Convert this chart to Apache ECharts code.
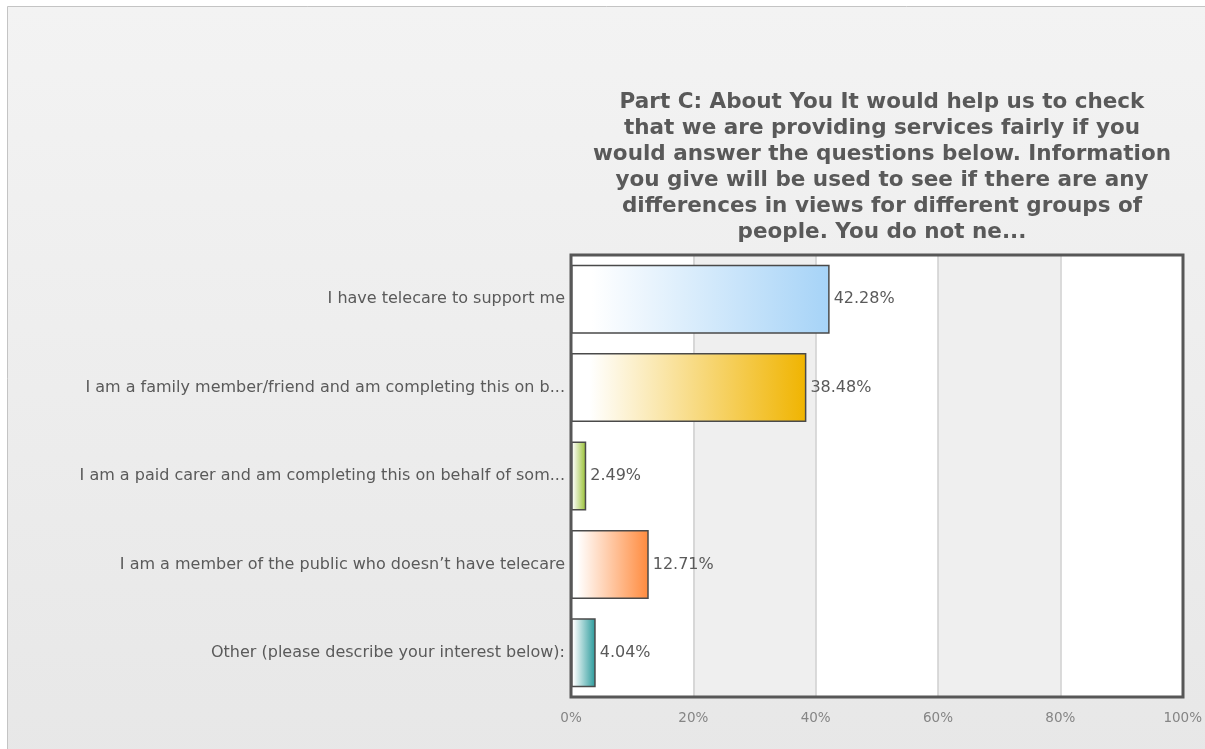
<!DOCTYPE html>
<html>
<head>
<meta charset="utf-8">
<style>
  html, body { margin: 0; padding: 0; background: #ffffff; }
  #chart { width: 1205px; height: 749px; }
</style>
<script src="https://cdn.jsdelivr.net/npm/echarts@6/dist/echarts.min.js"></script>
</head>
<body>
<div id="chart"></div>
<script>
// Survey answers and their share of respondents (%)
const categories = [
  'I have telecare to support me',
  'I am a family member/friend and am completing this on b...',
  'I am a paid carer and am completing this on behalf of som...',
  'I am a member of the public who doesn\u2019t have telecare',
  'Other (please describe your interest below):'
];
const values = [42.28, 38.48, 2.49, 12.71, 4.04];
const barColors = ['#a6d3f7', '#f0b400', '#96bf2e', '#ff8a3d', '#27999a'];
const xTicks = [0, 20, 40, 60, 80, 100];

const titleLines = [
  'Part C: About You It would help us to check',
  'that we are providing services fairly if you',
  'would answer the questions below. Information',
  'you give will be used to see if there are any',
  'differences in views for different groups of',
  'people. You do not ne...'
];

const chart = echarts.init(document.getElementById('chart'), null, { renderer: 'canvas' });

const W = 1205, H = 749;
const gridLeft = 571, gridRight = 22, gridTop = 255, gridBottom = 52;

const option = {
  animation: false,
  backgroundColor: '#ffffff',
  graphic: [
    {
      // outer panel with soft vertical gradient
      type: 'rect', silent: true, z: -10,
      shape: { x: 7.5, y: 6.5, width: W, height: H + 20 },
      style: {
        fill: {
          type: 'linear', x: 0, y: 0, x2: 0, y2: 1,
          colorStops: [{ offset: 0, color: '#f3f3f3' }, { offset: 1, color: '#e7e7e7' }]
        },
        stroke: '#c4c4c4', lineWidth: 1
      }
    },
    {
      // dark frame around the plot area
      type: 'rect', silent: true, z: 100,
      shape: { x: gridLeft, y: gridTop, width: W - gridLeft - gridRight, height: H - gridTop - gridBottom },
      style: { fill: 'none', stroke: '#575757', lineWidth: 3 }
    }
  ],
  title: {
    text: titleLines.join('\n'),
    left: gridLeft + (W - gridLeft - gridRight) / 2,
    textAlign: 'center',
    top: 84,
    textStyle: {
      fontFamily: 'DejaVu Sans',
      fontWeight: 'bold',
      fontSize: 21.5,
      lineHeight: 26,
      color: '#595959'
    }
  },
  grid: {
    left: gridLeft, right: gridRight, top: gridTop, bottom: gridBottom,
    containLabel: false
  },
  xAxis: {
    type: 'value',
    min: 0, max: 100, interval: 20,
    axisLine: { show: false },
    axisTick: { show: false },
    splitLine: { show: true, lineStyle: { color: '#cfcfcf', width: 1.5 } },
    splitArea: { show: true, areaStyle: { color: ['#ffffff', '#efefef'] } },
    axisLabel: {
      margin: 14,
      fontFamily: 'DejaVu Sans',
      fontSize: 13.5,
      color: '#858585',
      formatter: function (v) { return xTicks.indexOf(v) >= 0 ? v + '%' : ''; }
    }
  },
  yAxis: {
    type: 'category',
    data: categories,
    inverse: true,
    axisLine: { show: false },
    axisTick: { show: false },
    splitLine: { show: false },
    axisLabel: {
      margin: 6,
      fontFamily: 'DejaVu Sans',
      fontSize: 16,
      color: '#5a5a5a'
    }
  },
  series: [{
    type: 'bar',
    barWidth: '78%',
    data: values.map(function (v, i) {
      return {
        value: v,
        itemStyle: {
          color: {
            type: 'linear', x: 0, y: 0, x2: 1, y2: 0,
            colorStops: [
              { offset: 0, color: '#ffffff' },
              { offset: 0.08, color: '#ffffff' },
              { offset: 1, color: barColors[i] }
            ]
          },
          borderColor: '#4a4a4a',
          borderWidth: 1.5
        }
      };
    }),
    label: {
      show: true,
      position: 'right',
      distance: 4,
      fontFamily: 'DejaVu Sans',
      fontSize: 16,
      color: '#5a5a5a',
      formatter: function (p) { return p.value.toFixed(2) + '%'; }
    }
  }]
};

chart.setOption(option);
</script>
</body>
</html>
